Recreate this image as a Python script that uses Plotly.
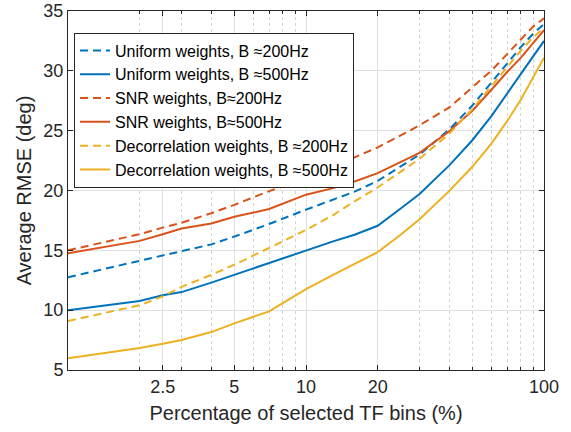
import plotly.graph_objects as go

# Percentage of selected TF bins (%)
x_pct = [1, 2, 2.5, 3, 4, 5, 7, 10, 13, 16, 20, 25, 30, 40, 50, 60, 70, 80, 90, 100]

uniform_200 = [12.75, 14.1, 14.55, 14.95, 15.5, 16.15, 17.2, 18.4, 19.2, 19.9, 20.8, 22.0, 23.0, 25.1, 27.1, 29.0, 30.6, 32.0, 33.1, 33.9]
uniform_500 = [10.0, 10.77, 11.24, 11.51, 12.3, 12.95, 13.9, 15.0, 15.75, 16.3, 17.05, 18.5, 19.7, 22.1, 24.2, 26.2, 28.1, 29.7, 31.1, 32.5]
snr_200 = [15.0, 16.35, 16.9, 17.3, 18.1, 18.8, 19.95, 21.0, 22.0, 22.8, 23.6, 24.6, 25.45, 26.94, 28.6, 30.0, 31.4, 32.6, 33.7, 34.4]
snr_500 = [14.75, 15.79, 16.35, 16.83, 17.25, 17.8, 18.45, 19.65, 20.2, 20.75, 21.45, 22.4, 23.15, 24.95, 26.67, 28.4, 29.9, 31.1, 32.3, 33.4]
decor_200 = [9.1, 10.41, 11.15, 11.95, 12.95, 13.8, 15.2, 16.7, 17.95, 19.1, 20.25, 21.6, 22.65, 24.75, 26.8, 28.7, 30.3, 31.7, 32.8, 33.6]
decor_500 = [5.98, 6.83, 7.19, 7.5, 8.17, 8.9, 9.9, 11.75, 12.95, 13.86, 14.85, 16.3, 17.6, 19.97, 21.98, 23.9, 25.8, 27.6, 29.4, 31.1]

series_names = [
    "Uniform weights, B \u2248200Hz",
    "Uniform weights, B \u2248500Hz",
    "SNR weights, B\u2248200Hz",
    "SNR weights, B\u2248500Hz",
    "Decorrelation weights, B \u2248200Hz",
    "Decorrelation weights, B \u2248500Hz",
]
series_values = [uniform_200, uniform_500, snr_200, snr_500, decor_200, decor_500]
series_colors = ["#0072BD", "#0072BD", "#D95319", "#D95319", "#EDB120", "#EDB120"]
series_dash = ["8px,5px", "solid", "8px,5px", "solid", "8px,5px", "solid"]

x_major_ticks = [2.5, 5, 10, 20, 100]
x_major_labels = ["2.5", "5", "10", "20", "100"]
x_minor_ticks = [2, 3, 4, 6, 7, 8, 9, 30, 40, 50, 60, 70, 80, 90]
y_ticks = [5, 10, 15, 20, 25, 30, 35]

FONT = "Liberation Sans, Arial, Helvetica, sans-serif"
AX = "#262626"

fig = go.Figure()
for name, vals, col, dash in zip(series_names, series_values, series_colors, series_dash):
    fig.add_trace(go.Scatter(x=x_pct, y=vals, mode="lines", name=name,
                             line=dict(color=col, width=2, dash=dash)))

fig.update_layout(
    width=571, height=432,
    margin=dict(l=68, r=27, t=11, b=62, autoexpand=False),
    paper_bgcolor="white", plot_bgcolor="white",
    font=dict(family=FONT, color=AX),
    showlegend=True,
    legend=dict(x=0.0126, y=0.94, xanchor="left", yanchor="top",
                bgcolor="white", bordercolor=AX, borderwidth=1,
                font=dict(size=16, color="#000000", family=FONT),
                tracegroupgap=0, itemwidth=30),
)
fig.update_xaxes(
    type="log", range=[0, 2], automargin=False,
    tickmode="array", tickvals=x_major_ticks, ticktext=x_major_labels,
    ticks="inside", ticklen=5, tickcolor=AX,
    showline=True, linecolor=AX, linewidth=1, mirror="ticks",
    showgrid=True, gridcolor="#e0e0e0", gridwidth=1,
    minor=dict(tickmode="array", tickvals=x_minor_ticks, ticks="inside", ticklen=3,
               tickcolor=AX, showgrid=True, gridcolor="#d4d4d4", griddash="dot", gridwidth=1),
    tickfont=dict(size=18, color=AX), ticklabeloverflow="allow",
    title=dict(text="Percentage of selected TF bins (%)", font=dict(size=20, color=AX), standoff=10),
    zeroline=False,
)
fig.update_yaxes(
    range=[5, 35], automargin=False,
    tickmode="array", tickvals=y_ticks,
    ticks="inside", ticklen=5, tickcolor=AX,
    showline=True, linecolor=AX, linewidth=1, mirror="ticks",
    showgrid=True, gridcolor="#e0e0e0", gridwidth=1,
    tickfont=dict(size=18, color=AX), ticklabeloverflow="allow",
    title=dict(text="Average RMSE (deg)", font=dict(size=20, color=AX), standoff=6),
    zeroline=False,
)

fig.write_html("out.html", config={"displayModeBar": False},
               post_script="document.body.style.margin='0px';")
